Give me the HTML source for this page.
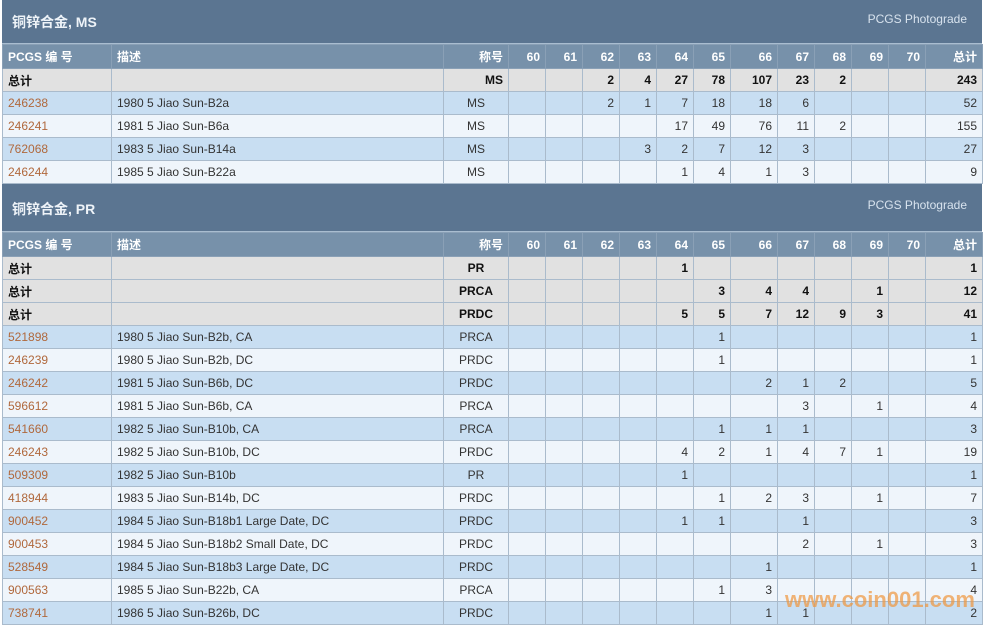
<!DOCTYPE html>
<html><head><meta charset="utf-8"><style>
body{margin:0;background:#fff;width:985px;height:627px;overflow:hidden;position:relative;font-family:"Liberation Sans","Noto Sans CJK SC",sans-serif;font-size:12px;color:#333}
.wrap{position:absolute;left:2px;width:980px}
.hd{background:#5b7591;color:#eef3f8;position:relative;border-bottom:1px solid #a9bdd0}
.hd b{position:absolute;left:10px;font-size:14px}
.hd span{position:absolute;right:15px;font-size:12px;color:#d8e3ee}
table{border-collapse:collapse;table-layout:fixed;width:980px}
td{height:22px;padding:0 5px;border:1px solid #aabbcc;white-space:nowrap;overflow:hidden;text-align:right}
td:nth-child(1),td:nth-child(2){text-align:left}
td:nth-child(3){text-align:center}
tr.h td{height:23px;background:#7791aa;color:#fff;font-weight:bold;border-color:#8aa0b6}
tr.t td{background:#e1e1e1;font-weight:bold;color:#111}
tr.b td{background:#c8def2}
tr.w td{background:#eff5fb}
td a{color:#b0683c;text-decoration:none}
.wm{position:absolute;left:785px;top:587px;font:bold 22px "Liberation Sans",sans-serif;color:rgba(240,150,60,0.7)}
</style></head><body>
<div class="wrap" style="top:0">
<div class="hd" style="height:43px"><b style="top:12px">铜锌合金, MS</b><span style="top:12px">PCGS Photograde</span></div>
<table><colgroup><col style="width:109px"><col style="width:332px"><col style="width:65px"><col style="width:37px"><col style="width:37px"><col style="width:37px"><col style="width:37px"><col style="width:37px"><col style="width:37px"><col style="width:47px"><col style="width:37px"><col style="width:37px"><col style="width:37px"><col style="width:37px"><col style="width:57px"></colgroup>
<tr class="h"><td>PCGS 编 号</td><td>描述</td><td style="text-align:right">称号</td><td>60</td><td>61</td><td>62</td><td>63</td><td>64</td><td>65</td><td>66</td><td>67</td><td>68</td><td>69</td><td>70</td><td>总计</td></tr>
<tr class="t"><td>总计</td><td></td><td style="text-align:right">MS</td><td></td><td></td><td>2</td><td>4</td><td>27</td><td>78</td><td>107</td><td>23</td><td>2</td><td></td><td></td><td>243</td></tr>
<tr class="b"><td><a>246238</a></td><td>1980 5 Jiao Sun-B2a</td><td>MS</td><td></td><td></td><td>2</td><td>1</td><td>7</td><td>18</td><td>18</td><td>6</td><td></td><td></td><td></td><td>52</td></tr>
<tr class="w"><td><a>246241</a></td><td>1981 5 Jiao Sun-B6a</td><td>MS</td><td></td><td></td><td></td><td></td><td>17</td><td>49</td><td>76</td><td>11</td><td>2</td><td></td><td></td><td>155</td></tr>
<tr class="b"><td><a>762068</a></td><td>1983 5 Jiao Sun-B14a</td><td>MS</td><td></td><td></td><td></td><td>3</td><td>2</td><td>7</td><td>12</td><td>3</td><td></td><td></td><td></td><td>27</td></tr>
<tr class="w"><td><a>246244</a></td><td>1985 5 Jiao Sun-B22a</td><td>MS</td><td></td><td></td><td></td><td></td><td>1</td><td>4</td><td>1</td><td>3</td><td></td><td></td><td></td><td>9</td></tr>
</table>
<div class="hd" style="height:47px"><b style="top:15px">铜锌合金, PR</b><span style="top:14px">PCGS Photograde</span></div>
<table><colgroup><col style="width:109px"><col style="width:332px"><col style="width:65px"><col style="width:37px"><col style="width:37px"><col style="width:37px"><col style="width:37px"><col style="width:37px"><col style="width:37px"><col style="width:47px"><col style="width:37px"><col style="width:37px"><col style="width:37px"><col style="width:37px"><col style="width:57px"></colgroup>
<tr class="h"><td>PCGS 编 号</td><td>描述</td><td style="text-align:right">称号</td><td>60</td><td>61</td><td>62</td><td>63</td><td>64</td><td>65</td><td>66</td><td>67</td><td>68</td><td>69</td><td>70</td><td>总计</td></tr>
<tr class="t"><td>总计</td><td></td><td>PR</td><td></td><td></td><td></td><td></td><td>1</td><td></td><td></td><td></td><td></td><td></td><td></td><td>1</td></tr>
<tr class="t"><td>总计</td><td></td><td>PRCA</td><td></td><td></td><td></td><td></td><td></td><td>3</td><td>4</td><td>4</td><td></td><td>1</td><td></td><td>12</td></tr>
<tr class="t"><td>总计</td><td></td><td>PRDC</td><td></td><td></td><td></td><td></td><td>5</td><td>5</td><td>7</td><td>12</td><td>9</td><td>3</td><td></td><td>41</td></tr>
<tr class="b"><td><a>521898</a></td><td>1980 5 Jiao Sun-B2b, CA</td><td>PRCA</td><td></td><td></td><td></td><td></td><td></td><td>1</td><td></td><td></td><td></td><td></td><td></td><td>1</td></tr>
<tr class="w"><td><a>246239</a></td><td>1980 5 Jiao Sun-B2b, DC</td><td>PRDC</td><td></td><td></td><td></td><td></td><td></td><td>1</td><td></td><td></td><td></td><td></td><td></td><td>1</td></tr>
<tr class="b"><td><a>246242</a></td><td>1981 5 Jiao Sun-B6b, DC</td><td>PRDC</td><td></td><td></td><td></td><td></td><td></td><td></td><td>2</td><td>1</td><td>2</td><td></td><td></td><td>5</td></tr>
<tr class="w"><td><a>596612</a></td><td>1981 5 Jiao Sun-B6b, CA</td><td>PRCA</td><td></td><td></td><td></td><td></td><td></td><td></td><td></td><td>3</td><td></td><td>1</td><td></td><td>4</td></tr>
<tr class="b"><td><a>541660</a></td><td>1982 5 Jiao Sun-B10b, CA</td><td>PRCA</td><td></td><td></td><td></td><td></td><td></td><td>1</td><td>1</td><td>1</td><td></td><td></td><td></td><td>3</td></tr>
<tr class="w"><td><a>246243</a></td><td>1982 5 Jiao Sun-B10b, DC</td><td>PRDC</td><td></td><td></td><td></td><td></td><td>4</td><td>2</td><td>1</td><td>4</td><td>7</td><td>1</td><td></td><td>19</td></tr>
<tr class="b"><td><a>509309</a></td><td>1982 5 Jiao Sun-B10b</td><td>PR</td><td></td><td></td><td></td><td></td><td>1</td><td></td><td></td><td></td><td></td><td></td><td></td><td>1</td></tr>
<tr class="w"><td><a>418944</a></td><td>1983 5 Jiao Sun-B14b, DC</td><td>PRDC</td><td></td><td></td><td></td><td></td><td></td><td>1</td><td>2</td><td>3</td><td></td><td>1</td><td></td><td>7</td></tr>
<tr class="b"><td><a>900452</a></td><td>1984 5 Jiao Sun-B18b1 Large Date, DC</td><td>PRDC</td><td></td><td></td><td></td><td></td><td>1</td><td>1</td><td></td><td>1</td><td></td><td></td><td></td><td>3</td></tr>
<tr class="w"><td><a>900453</a></td><td>1984 5 Jiao Sun-B18b2 Small Date, DC</td><td>PRDC</td><td></td><td></td><td></td><td></td><td></td><td></td><td></td><td>2</td><td></td><td>1</td><td></td><td>3</td></tr>
<tr class="b"><td><a>528549</a></td><td>1984 5 Jiao Sun-B18b3 Large Date, DC</td><td>PRDC</td><td></td><td></td><td></td><td></td><td></td><td></td><td>1</td><td></td><td></td><td></td><td></td><td>1</td></tr>
<tr class="w"><td><a>900563</a></td><td>1985 5 Jiao Sun-B22b, CA</td><td>PRCA</td><td></td><td></td><td></td><td></td><td></td><td>1</td><td>3</td><td></td><td></td><td></td><td></td><td>4</td></tr>
<tr class="b"><td><a>738741</a></td><td>1986 5 Jiao Sun-B26b, DC</td><td>PRDC</td><td></td><td></td><td></td><td></td><td></td><td></td><td>1</td><td>1</td><td></td><td></td><td></td><td>2</td></tr>
</table>
</div>
<div class="wm">www.coin001.com</div>
</body></html>
